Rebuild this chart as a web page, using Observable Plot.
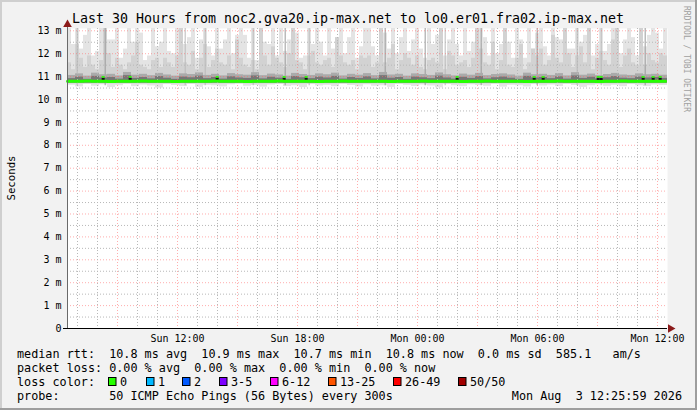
<!DOCTYPE html>
<html><head><meta charset="utf-8">
<script src="https://cdn.jsdelivr.net/npm/d3@7"></script>
<script src="https://cdn.jsdelivr.net/npm/@observablehq/plot@0.6"></script>
<style>body{margin:0;background:#f2f2f2}#chart{width:697px;height:410px;position:relative}</style>
</head><body><div id="chart"></div>
<script>
// ---- data (ms), 12-minute columns from Sun 06:30 UTC ----
const smokeTop = [13.3,12.4,13.3,12.2,12.8,13.3,11.9,12.1,13.3,13.3,12.6,12.6,13.3,11.8,12.2,13.3,12.5,13.3,12.9,11.7,11.9,13.3,12.3,12.5,13.3,
12.1,12.0,13.3,13.3,12.4,12.7,13.3,11.8,12.6,13.3,12.3,11.9,13.3,12.2,12.6,13.3,12.0,12.8,13.3,12.8,11.8,13.3,11.7,13.3,12.5,
12.4,13.3,11.9,13.3,12.1,12.6,13.3,12.9,11.8,11.9,13.3,12.4,13.3,12.5,11.9,13.3,12.2,12.7,13.3,12.0,12.7,13.3,11.8,12.3,13.3,
13.3,12.3,11.9,13.3,12.9,12.2,13.3,12.0,12.7,13.3,12.1,12.6,13.3,12.2,11.8,13.3,12.4,12.8,13.3,11.9,12.6,13.3,12.4,11.9,13.3,
12.1,12.5,13.3,13.3,12.7,11.9,13.3,12.0,12.4,13.3,12.5,11.8,13.3,12.6,11.8,13.3,12.2,12.9,13.3,12.3,11.9,13.3,12.7,12.6,13.3,
12.2,12.2,13.3,12.5,12.8,13.3,11.9,12.4,13.3,12.1,12.4,13.3,13.3,12.0,12.6,13.3,12.7,11.9,13.3,12.3,12.8,13.3,12.9,12.2,13.3];
const smokeMid = [11.6,11.3,12.4,11.8,11.4,11.9,11.5,11.3,11.7,13.3,12.0,11.4,11.8,11.5,11.3,11.6,11.9,12.5,11.5,11.4,11.3,11.7,11.8,11.4,11.8,
11.6,11.4,11.9,13.3,11.6,11.5,12.1,11.3,11.8,12.4,11.4,11.7,12.2,11.6,11.5,11.9,11.3,12.6,11.8,11.5,11.4,11.7,11.3,13.3,11.9,
11.5,12.3,11.8,11.6,11.4,12.0,13.3,11.7,11.6,11.3,11.9,12.1,11.6,11.5,11.7,11.8,11.4,13.3,11.9,11.6,11.5,11.7,11.3,11.9,11.8,
11.9,11.4,11.6,13.3,11.6,11.8,12.4,11.3,11.7,12.0,11.8,11.5,11.9,11.4,11.3,11.7,11.8,11.6,13.3,11.3,12.1,11.9,11.5,11.6,11.7,
11.4,11.8,13.3,12.2,11.6,11.5,12.5,11.3,11.7,13.3,11.5,11.4,11.8,12.4,11.3,11.6,13.3,11.9,12.2,11.5,11.7,12.8,11.8,11.6,13.3,
12.0,11.4,11.9,12.3,11.6,13.3,11.3,11.8,12.1,11.7,11.5,12.6,13.3,11.4,11.9,12.2,11.6,11.5,13.3,11.5,12.0,11.7,11.6,12.0,11.9];
// 24-minute bins
const smokeDark = [11.05,11.12,11.02,11.15,11.08,11.1,11.03,11.18,11.06,11.1,11.04,11.14,11.07,11.02,11.12,11.09,11.16,11.05,11.1,11.03,11.13,11.08,11.06,11.17,11.04,
11.11,11.07,11.02,11.14,11.09,11.05,11.12,11.08,11.15,11.03,11.1,11.06,11.13,11.04,11.18,11.07,11.1,11.02,11.12,11.09,11.05,11.16,11.08,11.03,11.11,
11.06,11.14,11.04,11.09,11.12,11.07,11.02,11.15,11.08,11.1,11.05,11.13,11.03,11.17,11.06,11.11,11.04,11.09,11.14,11.07,11.05,11.12,11.08,11.1,11.06];
const smokeLow = [10.62,10.55,10.66,10.58,10.64,10.52,10.6,10.67,10.56,10.63,10.59,10.5,10.65,10.61,10.57,10.66,10.53,10.62,10.6,10.55,10.64,10.68,10.58,10.61,10.54,
10.63,10.66,10.57,10.6,10.52,10.65,10.59,10.62,10.56,10.67,10.61,10.55,10.64,10.58,10.6,10.53,10.66,10.62,10.57,10.63,10.59,10.51,10.65,10.6,10.56,
10.64,10.61,10.58,10.67,10.54,10.62,10.6,10.55,10.65,10.59,10.63,10.57,10.66,10.61,10.53,10.6,10.64,10.58,10.62,10.56,10.65,10.6,10.57,10.63,10.61];
const medianRtt = [10.8,10.8,10.81,10.8,10.8,10.79,10.8,10.8,10.8,10.81,10.8,10.8,10.8,10.79,10.8,10.8,10.8,10.8,10.81,10.8,10.8,10.8,10.79,10.8,10.8,
10.8,10.81,10.8,10.8,10.8,10.8,10.79,10.8,10.8,10.81,10.8,10.8,10.8,10.8,10.8,10.79,10.8,10.8,10.8,10.81,10.8,10.8,10.8,10.8,10.79,
10.8,10.8,10.81,10.8,10.8,10.8,10.8,10.79,10.8,10.8,10.8,10.81,10.8,10.8,10.8,10.8,10.79,10.8,10.8,10.81,10.8,10.8,10.8,10.8,10.8];
// columns with wide spread (streaks) and level
const streakCol = [2,9,29,34,46,54,60,79,89,94,103,117,127,133,144];
const streakLvl = [1,2,1,1,1,2,1,2,2,1,2,2,1,1,2];
// spikes of the median (UTC)
const spikes = ["2026-08-02T08:18","2026-08-02T09:39","2026-08-02T14:00","2026-08-02T17:21","2026-08-02T18:27","2026-08-03T02:00","2026-08-03T05:51","2026-08-03T06:18","2026-08-03T09:03","2026-08-03T09:12","2026-08-03T11:18","2026-08-03T11:48","2026-08-03T12:09"];
const yTicks = [0,1,2,3,4,5,6,7,8,9,10,11,12,13];
const lossLabels = ["0","1","2","3-5","6-12","13-25","26-49","50/50"];
const lossColors = ["#26ff00","#00b8ff","#0059ff","#7e00ff","#ff00ff","#ff5500","#ff0000","#a10000"];
const title = "Last 30 Hours from noc2.gva20.ip-max.net to lo0.er01.fra02.ip-max.net";
const legendRtt = "median rtt:  10.8 ms avg  10.9 ms max  10.7 ms min  10.8 ms now  0.0 ms sd  585.1   am/s";
const legendLoss = "packet loss: 0.00 % avg  0.00 % max  0.00 % min  0.00 % now";
const legendProbe = "probe:       50 ICMP Echo Pings (56 Bytes) every 300s";
const stamp = "Mon Aug  3 12:25:59 2026";

// ---- build ----
const MIN = 60000;
const START = new Date(Date.UTC(2026,7,2,6,30));
const END = new Date(Date.UTC(2026,7,3,12,30));
const t = m => new Date(+START + m*MIN);
const cols = smokeTop.map((h,i)=>({t0:t(i*12), t1:t(i*12+12), hi:h, mid:Math.min(smokeMid[i],h), lo:smokeLow[Math.floor(i/2)]}));
const bins = smokeDark.map((d,i)=>({t0:t(i*24), t1:t(i*24+24), dk:d}));
const medPts = medianRtt.map((v,i)=>({t:t(i*24), v})).concat([{t:t(medianRtt.length*24-6), v:medianRtt[medianRtt.length-1]}]);
const streaks = streakCol.map((c,i)=>({t0:t(c*12+5), t1:t(c*12+8), lvl:streakLvl[i]}));
const spk = spikes.map(s=>{const d=new Date(s+"Z"); return {t0:new Date(+d-4*MIN), t1:new Date(+d+5*MIN)};});
const hourTicks = d3.utcHour.range(t(1), t(30*60+1));
const majTicks = hourTicks.filter(d=>d.getUTCHours()%3===0);
const minTicks = hourTicks.filter(d=>d.getUTCHours()%3!==0);
const labTicks = hourTicks.filter(d=>d.getUTCHours()%6===0);
const halfTicks = d3.range(0.5,13.1,1);
const fmt = d3.utcFormat("%a %H:%M");
const mono = "DejaVu Sans Mono";

const svg = Plot.plot({
  width: 697, height: 410,
  marginLeft: 67, marginRight: 30, marginTop: 28, marginBottom: 82,
  style: {background:"transparent", fontFamily: mono, fontSize:"10px", color:"#000"},
  x: {type:"utc", domain:[START, END]},
  y: {domain:[0, 13.1]},
  marks: [
    Plot.frame({fill:"white", stroke:null}),
    Plot.rectY(cols, {x1:"t0", x2:"t1", y1:"lo", y2:"hi", fill:"#e4e4e4", clip:true}),
    Plot.rectY(cols, {x1:"t0", x2:"t1", y1: 10.68, y2:"mid", fill:"#d2d2d2", clip:true}),
    Plot.rectY(streaks, {x1:"t0", x2:"t1", y1: 10.6, y2: 13.3, fill: d=>d.lvl===2?"#9a9a9a":"#bababa", clip:true}),
    Plot.rectY(bins, {x1:"t0", x2:"t1", y1: 10.7, y2:"dk", fill:"#aaaaaa"}),
    Plot.rectY(bins, {x1:"t0", x2:"t1", y1: 10.72, y2: d=>d.dk-0.14, fill:"#767676"}),
    Plot.ruleY(halfTicks, {stroke:"#b8b8b8", strokeDasharray:"1,2"}),
    Plot.ruleY(yTicks.slice(1), {stroke:"#ff6a6a", strokeOpacity:0.55, strokeDasharray:"1,2"}),
    Plot.ruleX(minTicks, {stroke:"#b8b8b8", strokeDasharray:"1,2"}),
    Plot.ruleX(majTicks, {stroke:"#ff6a6a", strokeOpacity:0.55, strokeDasharray:"1,2"}),
    Plot.rectY(spk, {x1:"t0", x2:"t1", y1:10.78, y2:10.93, fill:"#111"}),
    Plot.line(medPts, {x:"t", y:"v", curve:"step-after", stroke:"#26ff00", strokeWidth:3}),
    Plot.rectY(spk, {x1:"t0", x2:"t1", y1:10.93, y2:11.0, fill:"#26ff00"}),
    Plot.ruleX([START], {y1:0, y2:13.25, stroke:"#6a6a6a"}),
    Plot.ruleY([0], {x1:t(-12), x2:END, stroke:"#000"}),
    Plot.dot([{x:START, y:13.1}], {x:"x", y:"y", symbol:"triangle", r:3.2, fill:"#8b1a1a", stroke:null, dy:-4}),
    Plot.dot([{x:END, y:0}], {x:"x", y:"y", symbol:"triangle", r:3.2, rotate:90, fill:"#8b1a1a", stroke:null, dx:3}),
    Plot.axisX({ticks: labTicks, tickFormat: fmt, tickSize:0, tickPadding:6, label:null, fontSize:10}),
    Plot.axisY({ticks: yTicks, tickFormat: d=>d===0?"0":d+" m", tickSize:0, tickPadding:6, label:null, fontSize:10})
  ]
});
document.getElementById("chart").appendChild(svg);

const g = d3.select(svg);
g.insert("rect", ":first-child").attr("x",0).attr("y",0).attr("width",697).attr("height",410).attr("fill","#f2f2f2");
const fr = g.append("g");
fr.append("rect").attr("x",0).attr("y",0).attr("width",697).attr("height",2).attr("fill","#cfcfcf");
fr.append("rect").attr("x",0).attr("y",0).attr("width",2).attr("height",410).attr("fill","#cfcfcf");
fr.append("rect").attr("x",0).attr("y",408).attr("width",697).attr("height",2).attr("fill","#9e9e9e");
fr.append("rect").attr("x",695).attr("y",0).attr("width",2).attr("height",410).attr("fill","#9e9e9e");

const T = g.append("g").attr("font-family", mono).attr("fill","#000").attr("text-anchor","start");
const CW = 7.09;
T.append("text").attr("x",72).attr("y",23).attr("text-anchor","start").attr("font-size","13.4px").attr("textLength",552).attr("lengthAdjust","spacingAndGlyphs").text(title);
T.append("text").attr("transform","translate(15,178) rotate(-90)").attr("text-anchor","middle").attr("font-size","10.7px").text("Seconds");
T.append("text").attr("transform","translate(684,6) rotate(90)").attr("text-anchor","start").attr("font-size","8px").attr("fill","#a0a0a0").attr("textLength",106).text("RRDTOOL / TOBI OETIKER");

const put = (x,y,s,anchor) => T.append("text").attr("x",x).attr("y",y).attr("font-size","11.6px").attr("text-anchor",anchor||"start").attr("xml:space","preserve").style("white-space","pre").attr("textLength", s.length*CW).attr("lengthAdjust","spacingAndGlyphs").text(s);
const r1 = 358, r2 = 372, r3 = 386, r4 = 400;
put(17,r1,legendRtt);
put(17,r2,legendLoss);
put(17,r3,"loss color:");
const boxX = [108,146,182,219,270,328,393,458];
lossLabels.forEach((l,i)=>{
  T.append("rect").attr("x",boxX[i]+0.5).attr("y",377.5).attr("width",7.5).attr("height",8).attr("fill",lossColors[i]).attr("stroke","#000").attr("stroke-width",1);
  put(boxX[i]+12, r3, l);
});
put(17,r4,legendProbe);
put(682,r4,stamp,"end");
</script></body></html>
